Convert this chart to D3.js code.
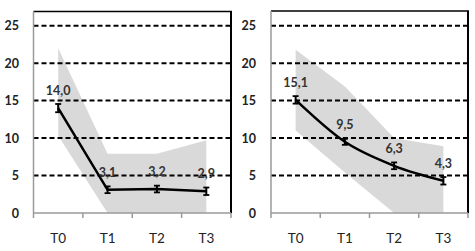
<!DOCTYPE html>
<html><head><meta charset="utf-8">
<script src="https://cdn.jsdelivr.net/npm/d3@7"></script>
<style>body{margin:0;background:#fff}svg{display:block}</style>
</head><body>
<svg id="c" width="475" height="251"></svg>
<script>
const categories = ["T0","T1","T2","T3"];
const yTicks = [0,5,10,15,20,25];
const leftValues = [14.0, 3.1, 3.2, 2.9];
const leftErrors = [0.55, 0.45, 0.45, 0.5];
const leftUpper = [22.0, 7.9, 7.9, 9.7];
const leftLower = [10.3, 0, 0, 0];
const rightValues = [15.1, 9.5, 6.3, 4.3];
const rightErrors = [0.5, 0.4, 0.45, 0.5];
const rightUpper = [21.8, 16.9, 10.0, 8.9];
const rightLower = [11.0, 5.4, 0, 0];
const fmt = v => v.toFixed(1).replace(".", ",");

const svg = d3.select("#c");
const panels = [
  {x0:33.5, x1:231, top:11.5, values:leftValues, errors:leftErrors, upper:leftUpper, lower:leftLower, curve:d3.curveLinear, labelRight:19},
  {x0:271, x1:468, top:11, values:rightValues, errors:rightErrors, upper:rightUpper, lower:rightLower, curve:d3.curveMonotoneX, labelRight:256}
];
const font = "Lato, 'Open Sans', sans-serif";

panels.forEach(p => {
  const g = svg.append("g");
  const y = d3.scaleLinear().domain([0,25]).range([213, 25.7]);
  const xb = d3.scaleBand().domain(categories).range([p.x0, p.x1]);
  const xp = d3.scalePoint().domain(categories).range([p.x0, p.x1]).padding(0.5);

  // band
  const area = d3.area().x((d,i)=>xp(categories[i])).y0((d,i)=>y(p.lower[i])).y1((d,i)=>y(d));
  g.append("path").datum(p.upper).attr("d", area).attr("fill", "#d9d9d9");

  // gridlines
  g.selectAll(".grid").data(yTicks.filter(t=>t>0)).join("line")
    .attr("x1", p.x0).attr("x2", p.x1).attr("y1", d=>y(d)).attr("y2", d=>y(d))
    .attr("stroke", "#000").attr("stroke-width", 2).attr("stroke-dasharray", "5,3");

  // frame
  g.append("line").attr("x1", p.x0).attr("x2", p.x1+1).attr("y1", p.top).attr("y2", p.top).attr("stroke","#000").attr("stroke-width",1.6);
  g.append("line").attr("x1", p.x1).attr("x2", p.x1).attr("y1", p.top).attr("y2", y(0)).attr("stroke","#000").attr("stroke-width",2);
  g.append("line").attr("x1", p.x0).attr("x2", p.x0).attr("y1", p.top).attr("y2", y(0)).attr("stroke","#9a9a9a").attr("stroke-width",1.5);

  // x axis
  g.append("line").attr("x1", p.x0).attr("x2", p.x1).attr("y1", y(0)).attr("y2", y(0)).attr("stroke","#9a9a9a").attr("stroke-width",1.5);
  const bounds = [p.x0].concat(categories.map(c=>xb(c)+xb.bandwidth()));
  g.selectAll(".xt").data(bounds).join("line")
    .attr("x1", d=>d).attr("x2", d=>d).attr("y1", y(0)).attr("y2", y(0)+5)
    .attr("stroke","#9a9a9a").attr("stroke-width",1.5);
  g.selectAll(".xl").data(categories).join("text")
    .attr("x", d=>xp(d)).attr("y", 243).attr("text-anchor","middle")
    .attr("font-family", font).attr("font-size", 13.5).attr("fill","#222").text(d=>d);

  // y labels
  g.selectAll(".yl").data(yTicks).join("text")
    .attr("x", p.labelRight).attr("y", d=>y(d)+4.5).attr("text-anchor","end")
    .attr("font-family", font).attr("font-size", 12.5).attr("font-weight","bold").attr("fill","#222").text(d=>d);

  // line
  const line = d3.line().x((d,i)=>xp(categories[i])).y(d=>y(d)).curve(p.curve);
  g.append("path").datum(p.values).attr("d", line).attr("fill","none").attr("stroke","#000").attr("stroke-width",2.5);

  // error bars
  p.values.forEach((v,i)=>{
    const cx = xp(categories[i]);
    const e = p.errors[i];
    g.append("line").attr("x1",cx).attr("x2",cx).attr("y1",y(v+e)).attr("y2",y(v-e)).attr("stroke","#000").attr("stroke-width",2);
    [v+e, v-e].forEach(t=>g.append("line").attr("x1",cx-3).attr("x2",cx+3).attr("y1",y(t)).attr("y2",y(t)).attr("stroke","#000").attr("stroke-width",1.8));
  });

  // data labels
  g.selectAll(".dl").data(p.values).join("text")
    .attr("x",(d,i)=>xp(categories[i])).attr("y", d=>y(d)-13).attr("text-anchor","middle")
    .attr("font-family", font).attr("font-size", 12.5).attr("font-weight","bold").attr("fill","#333").text(d=>fmt(d));
});
</script>
</body></html>
